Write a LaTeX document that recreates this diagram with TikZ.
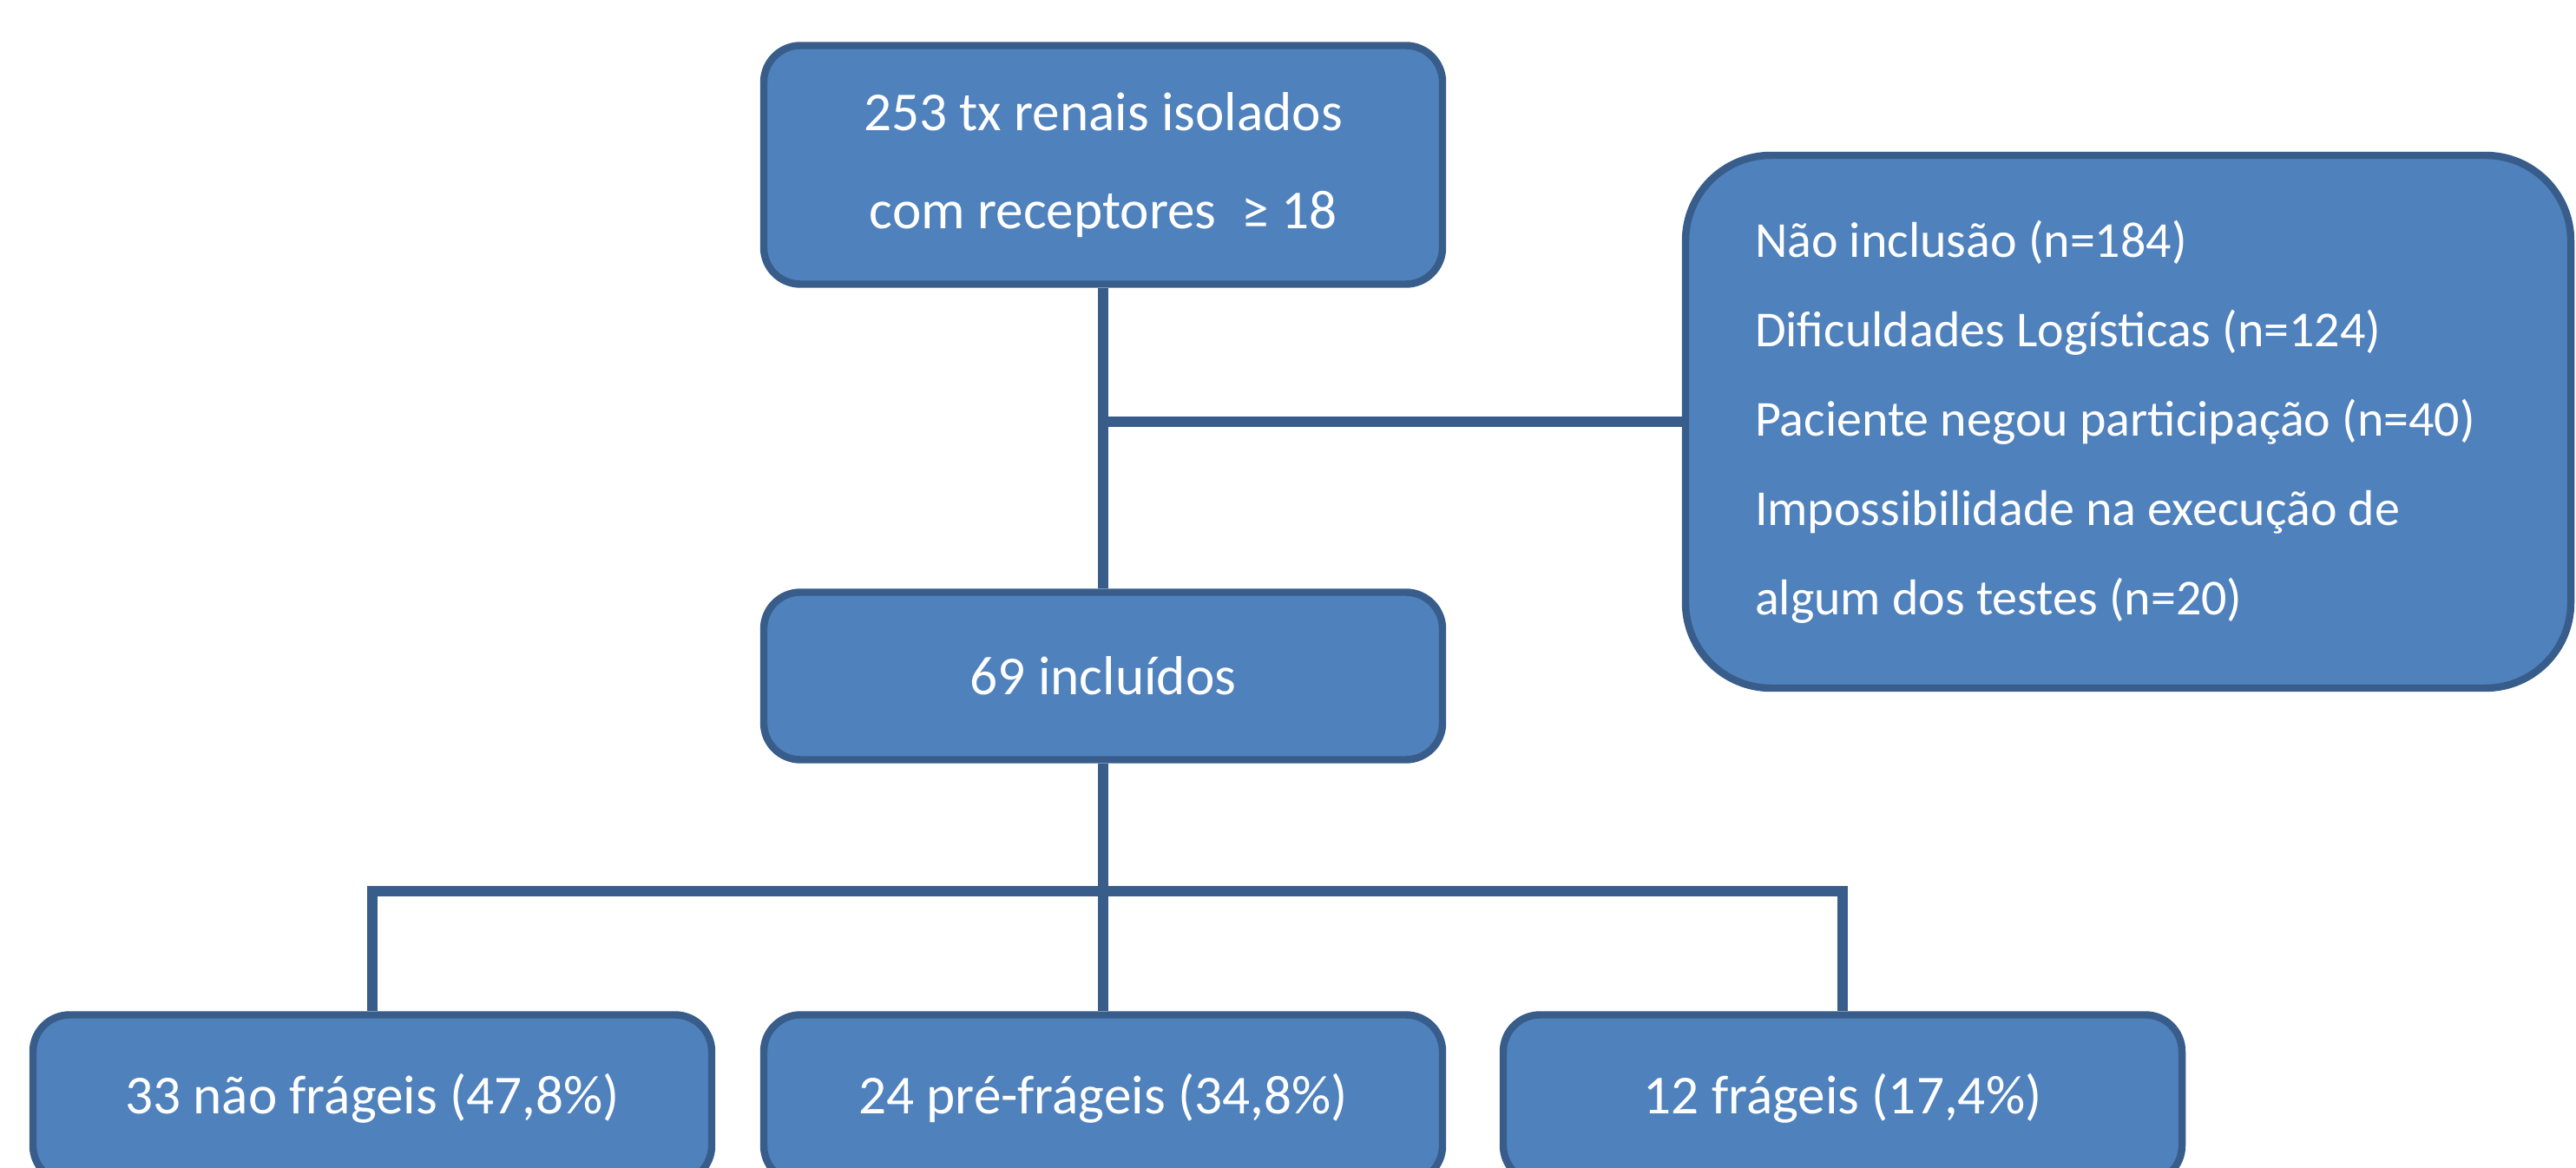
\documentclass[tikz,border=0pt]{standalone}
\usepackage{fontspec}
\setmainfont{Carlito}
\definecolor{boxfill}{HTML}{4F81BD}
\definecolor{boxline}{HTML}{385D8A}

\begin{document}
\begin{tikzpicture}[
    box/.style={rectangle, rounded corners=12pt, draw=boxline, line width=2.4pt,
        fill=boxfill, text=white, align=center, inner sep=0pt,
        minimum width=7.82cm, minimum height=1.93cm,
        font=\fontsize{18}{32}\selectfont},
    bigbox/.style={box, rounded corners=28pt, align=flush left, inner xsep=0.8cm,
        text width=8.6cm, minimum height=6.14cm,
        font=\fontsize{16.5}{29.3}\selectfont},
    edge/.style={draw=boxline, line width=3.5pt}
]
    \useasboundingbox (0,0) rectangle (29.68,13.45);
    \node[box, minimum height=2.75cm] (total) at (12.71,11.55)
        {253 tx renais isolados\\com receptores\ \ ≥ 18};
    \node[bigbox] (excl) at (24.52,8.59)
        {Não inclusão (n=184)\\Dificuldades Logísticas (n=124)\\Paciente negou participação (n=40)\\Impossibilidade na execução de\\algum dos testes (n=20)};
    \node[box] (incl) at (12.71,5.66) {69 incluídos};
    \node[box] (nonfrail) at (4.29,0.79) {33 não frágeis (47,8\%)};
    \node[box] (prefrail) at (12.71,0.79) {24 pré-frágeis (34,8\%)};
    \node[box] (frail) at (21.23,0.79) {12 frágeis (17,4\%)};
    \coordinate (split) at (12.71,3.18);
    \draw[edge] (total) -- (incl);
    \draw[edge] (total.south |- excl.west) -- (excl.west);
    \draw[edge] (incl) -- (prefrail);
    \draw[edge] (nonfrail.north) -- (nonfrail.north |- split) -- (frail.north |- split) -- (frail.north);
\end{tikzpicture}
\end{document}
